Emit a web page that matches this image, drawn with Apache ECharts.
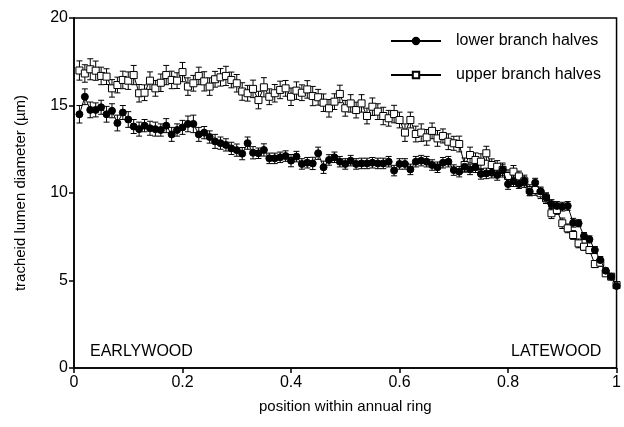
<!DOCTYPE html>
<html><head><meta charset="utf-8">
<script src="https://cdn.jsdelivr.net/npm/echarts@6/dist/echarts.min.js"></script>
<style>html,body{margin:0;padding:0;background:#fff}#c{width:624px;height:427px}</style>
</head><body><div id="c"></div>
<script>
const positions = [];
for (let i = 1; i <= 100; i++) positions.push(+(i / 100).toFixed(2));

const lowerValues = [14.5,15.5,14.75,14.75,14.9,14.5,14.7,14.0,14.6,14.2,
13.8,13.65,13.85,13.7,13.65,13.6,13.85,13.35,13.6,13.75,
13.95,13.95,13.35,13.45,13.2,12.95,12.85,12.75,12.55,12.45,
12.25,12.85,12.3,12.27,12.46,11.98,11.98,12.04,12.11,11.85,
12.08,11.66,11.73,11.69,12.27,11.47,11.89,12.04,11.79,11.66,
11.85,11.66,11.69,11.69,11.73,11.69,11.69,11.79,11.28,11.66,
11.66,11.35,11.79,11.85,11.79,11.6,11.47,11.73,11.79,11.31,
11.22,11.5,11.35,11.47,11.09,11.12,11.16,11.03,11.31,10.51,
10.67,10.51,10.67,10.09,10.59,10.09,9.75,9.37,9.26,9.22,
9.26,8.3,8.27,7.54,7.35,6.74,6.17,5.56,5.22,4.69];

const upperValues = [17.0,16.83,17.07,16.99,16.69,16.65,15.98,16.17,16.46,16.42,
16.74,15.7,15.73,16.42,15.98,16.3,16.74,16.46,16.42,16.91,
16.08,16.27,16.69,16.38,16.08,16.5,16.61,16.69,16.46,16.27,
15.8,15.7,15.95,15.31,16.04,15.5,15.7,15.89,15.98,15.5,
15.85,15.73,15.92,15.54,15.47,15.16,14.84,15.22,15.66,14.84,
15.12,14.74,15.12,14.4,14.93,14.65,14.4,14.27,14.51,14.17,
13.45,14.17,13.37,13.45,13.18,13.55,13.12,13.26,12.93,12.84,
12.8,11.6,12.17,11.89,11.79,12.27,11.6,11.5,11.31,10.97,
11.22,10.95,10.67,10.17,10.17,9.98,9.7,8.84,9.03,8.27,
7.98,7.6,7.12,6.93,6.74,5.94,6.02,5.41,5.22,4.74];

const lowerErrors = [0.5,0.45,0.45,0.4,0.4,0.45,0.4,0.45,0.4,0.45,
0.4,0.4,0.35,0.4,0.4,0.35,0.4,0.4,0.35,0.4,
0.45,0.5,0.4,0.35,0.35,0.4,0.35,0.35,0.35,0.35,
0.35,0.35,0.35,0.3,0.35,0.3,0.3,0.3,0.3,0.35,
0.3,0.3,0.3,0.35,0.35,0.35,0.3,0.3,0.3,0.3,
0.3,0.3,0.3,0.3,0.3,0.3,0.3,0.3,0.3,0.3,
0.3,0.3,0.3,0.3,0.3,0.3,0.3,0.3,0.3,0.3,
0.3,0.3,0.3,0.3,0.3,0.3,0.3,0.3,0.3,0.3,
0.3,0.25,0.25,0.25,0.25,0.25,0.25,0.25,0.25,0.25,
0.25,0.25,0.2,0.2,0.2,0.2,0.2,0.15,0.15,0.15];

const upperErrors = [0.55,0.5,0.6,0.55,0.5,0.45,0.5,0.45,0.5,0.5,
0.55,0.5,0.45,0.5,0.45,0.5,0.55,0.5,0.45,0.55,
0.5,0.45,0.5,0.55,0.5,0.45,0.5,0.55,0.45,0.5,
0.5,0.45,0.5,0.5,0.55,0.45,0.5,0.5,0.45,0.5,
0.5,0.45,0.5,0.55,0.45,0.5,0.5,0.45,0.5,0.45,
0.5,0.45,0.5,0.45,0.5,0.45,0.5,0.45,0.5,0.45,
0.5,0.45,0.45,0.5,0.45,0.45,0.45,0.4,0.45,0.4,
0.45,0.4,0.45,0.4,0.45,0.4,0.35,0.35,0.4,0.35,
0.35,0.3,0.35,0.3,0.3,0.3,0.3,0.3,0.25,0.3,
0.25,0.25,0.25,0.2,0.2,0.2,0.2,0.15,0.15,0.15];

const yTicks = [0, 5, 10, 15, 20];

const FONT = 'Liberation Sans, Arial, Helvetica, sans-serif';

function errData(vals, errs) {
  return positions.map((x, i) => [x, vals[i], errs[i]]);
}
function renderErr(params, api) {
  const x = api.value(0), y = api.value(1), e = api.value(2);
  const hi = api.coord([x, y + e]);
  const lo = api.coord([x, y - e]);
  const w = 3;
  const s = {stroke: '#000', lineWidth: 1};
  return {type: 'group', children: [
    {type: 'line', shape: {x1: hi[0], y1: hi[1], x2: lo[0], y2: lo[1]}, style: s},
    {type: 'line', shape: {x1: hi[0]-w, y1: hi[1], x2: hi[0]+w, y2: hi[1]}, style: s},
    {type: 'line', shape: {x1: lo[0]-w, y1: lo[1], x2: lo[0]+w, y2: lo[1]}, style: s}
  ]};
}

const chart = echarts.init(document.getElementById('c'), null, {renderer: 'canvas'});
chart.setOption({
  backgroundColor: '#fff',
  animation: false,
  grid: {left: 74, right: 3, top: 18, bottom: 59, show: true, borderColor: '#000', borderWidth: 1.5, backgroundColor: 'transparent'},
  legend: {
    orient: 'vertical', left: 385, top: 28, itemWidth: 50, itemHeight: 8, itemGap: 18,
    data: ['lower branch halves', 'upper branch halves'],
    textStyle: {fontFamily: FONT, fontSize: 16, color: '#000', padding: [0, 0, 0, 10]}
  },
  xAxis: {
    type: 'value', min: 0, max: 1, interval: 0.2,
    name: 'position within annual ring', nameLocation: 'middle', nameGap: 31,
    nameTextStyle: {fontFamily: FONT, fontSize: 15, color: '#000'},
    axisLine: {lineStyle: {color: '#000', width: 1.5}},
    axisTick: {show: true, length: 5, lineStyle: {color: '#000', width: 1.5}},
    axisLabel: {fontFamily: FONT, fontSize: 16, color: '#000', margin: 7},
    splitLine: {show: false}
  },
  yAxis: {
    type: 'value', min: yTicks[0], max: yTicks[yTicks.length-1], interval: 5,
    name: 'tracheid lumen diameter (µm)', nameLocation: 'middle', nameGap: 46,
    nameTextStyle: {fontFamily: FONT, fontSize: 15, color: '#000'},
    axisLine: {lineStyle: {color: '#000', width: 1.5}},
    axisTick: {show: true, length: 5, lineStyle: {color: '#000', width: 1.5}},
    axisLabel: {fontFamily: FONT, fontSize: 16, color: '#000', margin: 6},
    splitLine: {show: false}
  },
  graphic: [
    {type: 'text', left: 90, top: 344, style: {text: 'EARLYWOOD', font: '16px ' + FONT, fill: '#000'}},
    {type: 'text', left: 511, top: 344, style: {text: 'LATEWOOD', font: '16px ' + FONT, fill: '#000'}}
  ],
  series: [
    {type: 'custom', name: 'upperErr', data: errData(upperValues, upperErrors), renderItem: renderErr, z: 2, silent: true},
    {type: 'custom', name: 'lowerErr', data: errData(lowerValues, lowerErrors), renderItem: renderErr, z: 2, silent: true},
    {type: 'line', name: 'upper branch halves', data: positions.map((x, i) => [x, upperValues[i]]),
     symbol: 'rect', symbolSize: 7, showAllSymbol: true,
     lineStyle: {color: '#000', width: 1}, itemStyle: {color: '#fff', borderColor: '#000', borderWidth: 1}, z: 3},
    {type: 'line', name: 'lower branch halves', data: positions.map((x, i) => [x, lowerValues[i]]),
     symbol: 'circle', symbolSize: 7, showAllSymbol: true,
     lineStyle: {color: '#000', width: 1}, itemStyle: {color: '#000', borderColor: '#000', borderWidth: 1}, z: 4}
  ]
});
</script></body></html>
